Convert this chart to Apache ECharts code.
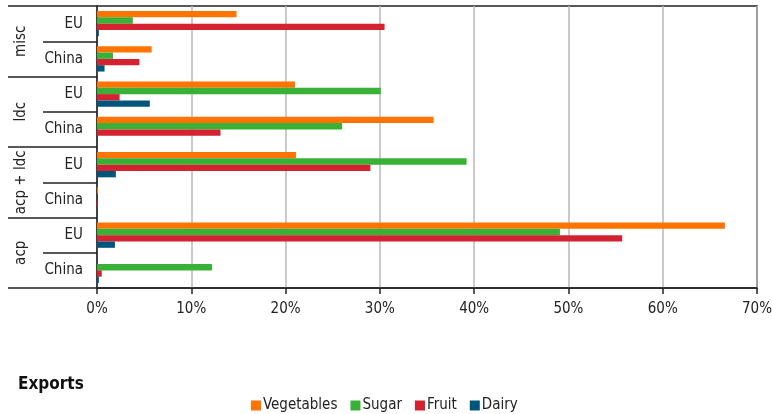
<!DOCTYPE html>
<html>
<head>
<meta charset="utf-8">
<script src="https://cdn.jsdelivr.net/npm/echarts@6/dist/echarts.min.js"></script>
<style>
  html, body { margin: 0; padding: 0; background: #fff; }
  #chart { width: 772px; height: 414px; }
</style>
</head>
<body>
<div id="chart"></div>
<script>
// 子类别（从上到下）
const subCats = ['EU', 'China', 'EU', 'China', 'EU', 'China', 'EU', 'China'];
// 分组
const groups = ['misc', 'ldc', 'acp + ldc', 'acp'];
const xTicks = [0, 10, 20, 30, 40, 50, 60, 70];

// 各系列数值 (%)
const vegetables = [14.8, 5.8, 21.0, 35.7, 21.1, 0.1, 66.6, 0];
const sugar      = [3.8, 1.7, 30.1, 26.0, 39.2, 0, 49.1, 12.2];
const fruit      = [30.5, 4.5, 2.4, 13.1, 29.0, 0.1, 55.7, 0.5];
const dairy      = [0.2, 0.8, 5.6, 0, 2.0, 0, 1.9, 0.2];

const FONT = '"Liberation Sans Narrow", "DejaVu Sans Condensed", sans-serif';

const chart = echarts.init(document.getElementById('chart'));

function bar(name, data, color) {
    return {
        name: name,
        type: 'bar',
        yAxisIndex: 0,
        data: data,
        barGap: '0%',
        barCategoryGap: '28%',
        itemStyle: { color: color },
        silent: true
    };
}

chart.setOption({
    animation: false,
    title: {
        text: 'Exports',
        left: 13,
        top: 371,
        textStyle: { fontFamily: FONT, fontSize: 17, fontWeight: 'bold', color: '#111' }
    },
    legend: {
        left: 246,
        top: 393,
        itemWidth: 10,
        itemHeight: 10,
        itemGap: 13,
        icon: 'rect',
        textStyle: { fontFamily: FONT, fontSize: 15, color: '#222', padding: [0, 0, 0, -3] },
        data: ['Vegetables', 'Sugar', 'Fruit', 'Dairy']
    },
    grid: {
        left: 97,
        right: 15,
        top: 6,
        bottom: 126,
        outerBoundsMode: 'none',
        show: true,
        borderColor: '#222',
        borderWidth: 1.5
    },
    xAxis: {
        type: 'value',
        min: 0,
        max: 70,
        interval: 10,
        axisLine: { show: true, lineStyle: { color: '#222', width: 1.5 } },
        axisTick: { show: true, length: 6, lineStyle: { color: '#222', width: 1.5 } },
        axisLabel: {
            margin: 14,
            fontFamily: FONT,
            fontSize: 15,
            color: '#222',
            formatter: v => xTicks.indexOf(v) >= 0 ? v + '%' : ''
        },
        splitLine: { show: true, lineStyle: { color: '#b8b8b8', width: 1.5 } }
    },
    yAxis: [
        {
            type: 'category',
            data: subCats,
            inverse: true,
            position: 'left',
            axisLine: { show: true, lineStyle: { color: '#222', width: 1.5 } },
            axisTick: { show: true, length: 54, interval: 0, lineStyle: { color: '#222', width: 1.5 } },
            axisLabel: { interval: 0, margin: 14, fontFamily: FONT, fontSize: 15, color: '#222' }
        },
        {
            type: 'category',
            data: groups,
            inverse: true,
            position: 'left',
            axisLine: { show: false },
            axisTick: { show: true, length: 89, interval: 0, lineStyle: { color: '#222', width: 1.5 } },
            axisLabel: { interval: 0, rotate: 90, margin: 68, fontFamily: FONT, fontSize: 15, color: '#222' }
        }
    ],
    series: [
        bar('Vegetables', vegetables, '#ff7300'),
        bar('Sugar', sugar, '#38b136'),
        bar('Fruit', fruit, '#d42231'),
        bar('Dairy', dairy, '#00557a')
    ]
});
</script>
</body>
</html>
